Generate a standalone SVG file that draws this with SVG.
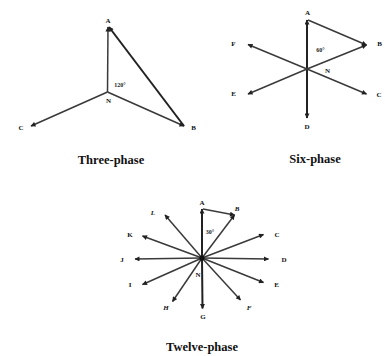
<svg xmlns="http://www.w3.org/2000/svg" width="385" height="356" viewBox="0 0 385 356">
  <style>
    .ph { stroke: #3a3a3a; stroke-width: 1.5; fill: none; marker-end: url(#arr); }
    .bold { stroke: #222; stroke-width: 2; }
    .lbl { font-family: "Liberation Serif", serif; font-weight: bold; font-size: 7px; fill: #111; text-anchor: middle; }
    .it { font-style: italic; }
    .ang { font-family: "Liberation Serif", serif; font-weight: bold; font-size: 6px; fill: #222; text-anchor: middle; }
    .title { font-family: "Liberation Serif", serif; font-weight: bold; font-size: 12.5px; fill: #111; text-anchor: middle; }
  </style>
  <defs>
    <marker id="arr" viewBox="0 0 10 10" refX="9" refY="5" markerWidth="6" markerHeight="5" markerUnits="userSpaceOnUse" orient="auto">
      <path d="M0,0 L10,5 L0,10 Z" fill="#222"/>
    </marker>
  </defs>
  <rect width="385" height="356" fill="#fff"/>

  <!-- three-phase star -->
  <g id="three-phase">
    <g id="three-phase-connectors">
      <line class="ph" x1="107.5" y1="92" x2="108" y2="27"/>
      <line class="ph" x1="107.5" y1="92" x2="184" y2="126"/>
      <line class="ph" x1="107.5" y1="92" x2="31" y2="126"/>
      <line class="ph bold" x1="184" y1="126" x2="109" y2="27"/>
    </g>
    <text class="lbl" x="108" y="22.5">A</text>
    <text class="lbl" x="193.5" y="129.5">B</text>
    <text class="lbl" x="21" y="129.5">C</text>
    <text class="lbl" x="108.5" y="103">N</text>
    <text class="ang" x="120" y="87">120°</text>
    <text class="title" x="111" y="164">Three-phase</text>
  </g>

  <!-- six-phase star -->
  <g id="six-phase">
    <g id="six-phase-connectors">
      <line class="ph bold" x1="307" y1="69" x2="307" y2="20"/>
      <line class="ph bold" x1="307" y1="69" x2="307" y2="118"/>
      <line class="ph" x1="307" y1="69" x2="366.5" y2="45"/>
      <line class="ph" x1="307" y1="69" x2="366.5" y2="94"/>
      <line class="ph" x1="307" y1="69" x2="248" y2="44.5"/>
      <line class="ph" x1="307" y1="69" x2="248" y2="94"/>
      <line class="ph" x1="308" y1="20" x2="366.5" y2="45"/>
    </g>
    <text class="lbl" x="307.5" y="15">A</text>
    <text class="lbl" x="379.5" y="46">B</text>
    <text class="lbl" x="379" y="96.5">C</text>
    <text class="lbl" x="307" y="128.5">D</text>
    <text class="lbl" x="233.5" y="96">E</text>
    <text class="lbl" x="233.5" y="46">F</text>
    <text class="lbl" x="327.5" y="72.5">N</text>
    <text class="ang" x="320.5" y="51.5">60°</text>
    <text class="title" x="315" y="162.5">Six-phase</text>
  </g>

  <!-- twelve-phase star -->
  <g id="twelve-phase">
    <g id="twelve-phase-connectors">
      <line class="ph bold" x1="202" y1="258" x2="202" y2="209"/>
      <line class="ph" x1="202" y1="258" x2="234.5" y2="215"/>
      <line class="ph" x1="202" y1="258" x2="263.5" y2="234.5"/>
      <line class="ph" x1="202" y1="258" x2="268.5" y2="259"/>
      <line class="ph" x1="202" y1="258" x2="263.5" y2="282.5"/>
      <line class="ph" x1="202" y1="258" x2="240.5" y2="300"/>
      <line class="ph bold" x1="202" y1="258" x2="202.5" y2="308.5"/>
      <line class="ph" x1="202" y1="258" x2="172.5" y2="301.5"/>
      <line class="ph" x1="202" y1="258" x2="142.5" y2="284.5"/>
      <line class="ph" x1="202" y1="258" x2="135" y2="259"/>
      <line class="ph" x1="202" y1="258" x2="142.5" y2="236"/>
      <line class="ph" x1="202" y1="258" x2="165" y2="215"/>
      <line class="ph" x1="203" y1="209" x2="234.5" y2="215"/>
    </g>
    <circle cx="202" cy="258" r="2.6" fill="#111"/>
    <text class="lbl" x="202" y="205">A</text>
    <text class="lbl it" x="237" y="210.5">B</text>
    <text class="lbl" x="277" y="236.5">C</text>
    <text class="lbl" x="284" y="261.5">D</text>
    <text class="lbl" x="276.5" y="286.5">E</text>
    <text class="lbl it" x="249" y="309.5">F</text>
    <text class="lbl" x="203" y="318.5">G</text>
    <text class="lbl it" x="166" y="309.5">H</text>
    <text class="lbl" x="130" y="286.5">I</text>
    <text class="lbl" x="122" y="261.5" fill="#8a7a60">J</text>
    <text class="lbl" x="130" y="236.5">K</text>
    <text class="lbl it" x="153" y="214.5">L</text>
    <text class="lbl" x="198" y="276.5">N</text>
    <text class="ang" x="210" y="234">30°</text>
    <text class="title" x="202" y="351">Twelve-phase</text>
  </g>
</svg>
